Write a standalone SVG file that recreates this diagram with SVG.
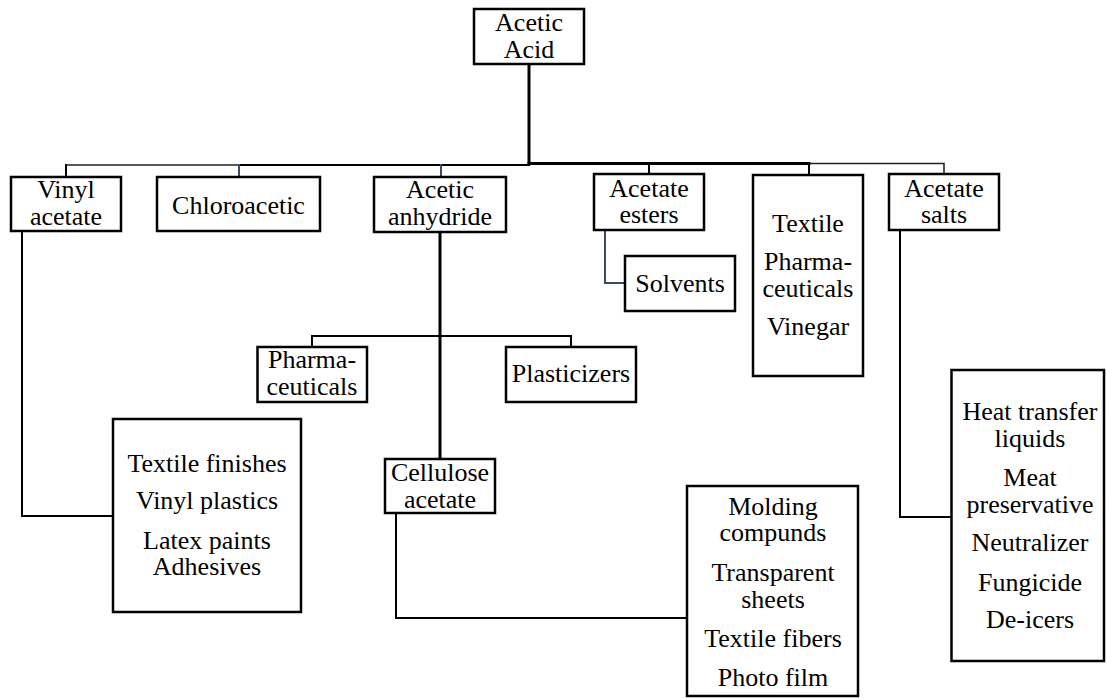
<svg xmlns="http://www.w3.org/2000/svg" width="1106" height="698" viewBox="0 0 1106 698">
<style>
.box{fill:#fff;stroke:#000;stroke-width:2.5}
.t{font-size:26px;fill:#000;text-anchor:middle}
.c{fill:none;stroke:#000;stroke-width:2;stroke-linecap:square}
.thick{stroke-width:3}
.slate{stroke:#3d4b5e}
.thin{stroke-width:1.6;stroke:#222}
</style>
<rect width="1106" height="698" fill="#fff"/>
<g id="connectors">
<path class="c thick" d="M529 64V164"/>
<path class="c thin" d="M66 165H239"/>
<path class="c" d="M239 165H529"/>
<path class="c thick" d="M529 163.5H809"/>
<path class="c thin" d="M809 163.5H944V174"/>
<path class="c" d="M66 165V177"/>
<path class="c slate" d="M239 165V177"/>
<path class="c slate" d="M441 165V177"/>
<path class="c" d="M649 163.5V174"/>
<path class="c" d="M809 163.5V175"/>
<path class="c slate" d="M605 230V283H625"/>
<path class="c" d="M22 231V516H113"/>
<path class="c thick" d="M440 232V459"/>
<path class="c" d="M312 347V336H571V347"/>
<path class="c" d="M396 513V618H687"/>
<path class="c" d="M900 230V517H951"/>
</g>
<g font-family="Liberation Serif, Times New Roman, DejaVu Serif, serif">
<g id="acetic-acid"><rect class="box" x="474" y="9" width="110" height="55"/><text class="t" x="529" y="31">Acetic</text><text class="t" x="529" y="58">Acid</text></g>
<g id="vinyl-acetate"><rect class="box" x="11" y="177" width="110" height="54"/><text class="t" x="66" y="198">Vinyl</text><text class="t" x="66" y="225">acetate</text></g>
<g id="chloroacetic"><rect class="box" x="157" y="177" width="163" height="54"/><text class="t" x="238.5" y="214">Chloroacetic</text></g>
<g id="acetic-anhydride"><rect class="box" x="374" y="177" width="132" height="55"/><text class="t" x="440" y="198">Acetic</text><text class="t" x="440" y="225">anhydride</text></g>
<g id="acetate-esters"><rect class="box" x="594" y="174" width="110" height="56"/><text class="t" x="649" y="197">Acetate</text><text class="t" x="649" y="223">esters</text></g>
<g id="textile"><rect class="box" x="753" y="175" width="110" height="201"/><text class="t" x="808" y="232">Textile</text><text class="t" x="808" y="270">Pharma-</text><text class="t" x="808" y="297">ceuticals</text><text class="t" x="808" y="335">Vinegar</text></g>
<g id="acetate-salts"><rect class="box" x="889" y="174" width="110" height="56"/><text class="t" x="944" y="197">Acetate</text><text class="t" x="944" y="223">salts</text></g>
<g id="solvents"><rect class="box" x="625" y="256" width="110" height="55"/><text class="t" x="680" y="292">Solvents</text></g>
<g id="pharmaceuticals"><rect class="box" x="257.5" y="347" width="109.5" height="55"/><text class="t" x="312" y="368">Pharma-</text><text class="t" x="312" y="395">ceuticals</text></g>
<g id="plasticizers"><rect class="box" x="506" y="347" width="130" height="55"/><text class="t" x="571" y="382">Plasticizers</text></g>
<g id="vinyl-uses"><rect class="box" x="113" y="419" width="188" height="193"/><text class="t" x="207" y="472">Textile finishes</text><text class="t" x="207" y="509">Vinyl plastics</text><text class="t" x="207" y="549">Latex paints</text><text class="t" x="207" y="575">Adhesives</text></g>
<g id="cellulose-acetate"><rect class="box" x="385" y="459" width="110" height="54"/><text class="t" x="440" y="481">Cellulose</text><text class="t" x="440" y="508">acetate</text></g>
<g id="cellulose-uses"><rect class="box" x="687" y="486" width="171" height="210"/><text class="t" x="773" y="515">Molding</text><text class="t" x="773" y="541">compunds</text><text class="t" x="773" y="581">Transparent</text><text class="t" x="773" y="608">sheets</text><text class="t" x="773" y="647">Textile fibers</text><text class="t" x="773" y="686">Photo film</text></g>
<g id="salt-uses"><rect class="box" x="951.5" y="370" width="152.5" height="291"/><text class="t" x="1030" y="420">Heat transfer</text><text class="t" x="1030" y="447">liquids</text><text class="t" x="1030" y="486">Meat</text><text class="t" x="1030" y="513">preservative</text><text class="t" x="1030" y="551">Neutralizer</text><text class="t" x="1030" y="591">Fungicide</text><text class="t" x="1030" y="628">De-icers</text></g>
</g>
</svg>
